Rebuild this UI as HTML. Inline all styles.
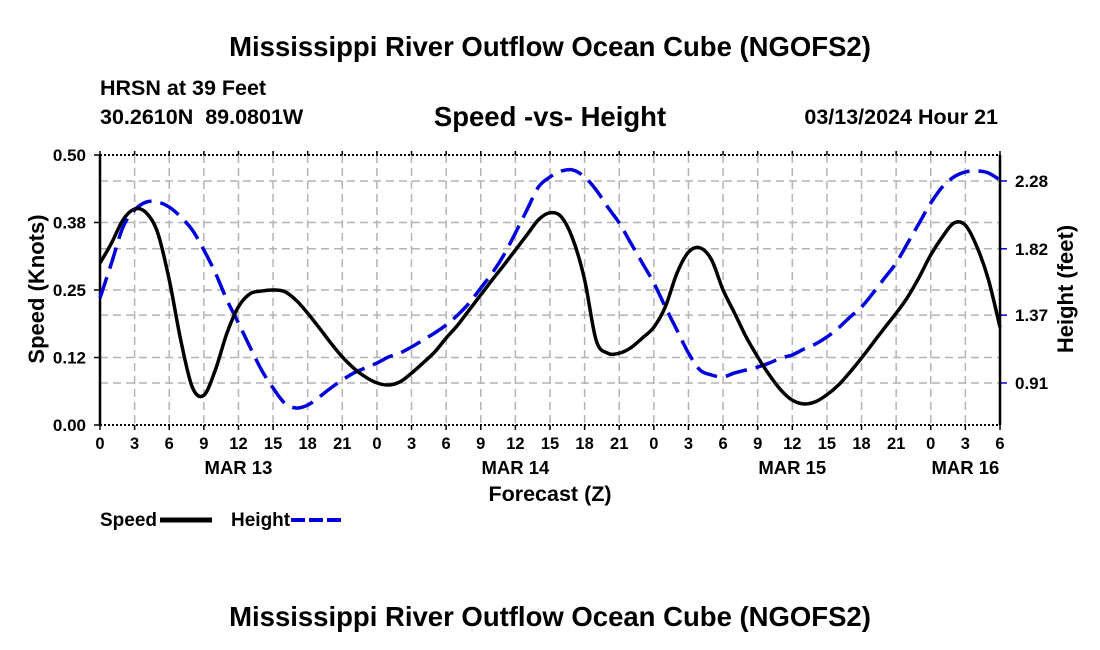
<!DOCTYPE html>
<html><head><meta charset="utf-8">
<style>
html,body{margin:0;padding:0;background:#fff;}
svg{display:block;font-family:"Liberation Sans",Arial,sans-serif;font-weight:bold;}
</style></head>
<body>
<svg id="chart" width="1100" height="650" viewBox="0 0 1100 650" xmlns="http://www.w3.org/2000/svg">
  <rect width="1100" height="650" fill="#fff"/>
  <text x="550" y="56" font-size="27.5" text-anchor="middle">Mississippi River Outflow Ocean Cube (NGOFS2)</text>
  <text x="100" y="95" font-size="21.5">HRSN at 39 Feet</text>
  <text x="100" y="124" font-size="21.5" xml:space="preserve">30.2610N  89.0801W</text>
  <text x="550" y="126" font-size="27.5" text-anchor="middle">Speed -vs- Height</text>
  <text x="998" y="124" font-size="21.5" text-anchor="end">03/13/2024 Hour 21</text>
  <g id="grid"></g>
  <g id="axes"></g>
  <g id="series"></g>
  <text x="550" y="501" font-size="21.5" text-anchor="middle">Forecast (Z)</text>
  <text transform="translate(44,289) rotate(-90)" font-size="22" text-anchor="middle">Speed (Knots)</text>
  <text transform="translate(1073,289) rotate(-90)" font-size="22" text-anchor="middle">Height (feet)</text>
  <g>
    <text x="100" y="526" font-size="19">Speed</text>
    <line x1="160" y1="520" x2="212" y2="520" stroke="#000" stroke-width="5"/>
    <text x="231" y="526" font-size="19">Height</text>
    <line x1="291" y1="520" x2="342" y2="520" stroke="#0000dd" stroke-width="4" stroke-dasharray="14,4"/>
  </g>
  <text x="550" y="626" font-size="27.5" text-anchor="middle">Mississippi River Outflow Ocean Cube (NGOFS2)</text>
</svg>
<script>
const hours = [];
for (let i = 0; i <= 78; i++) hours.push(i);
const speed = [0.30,0.337,0.38,0.40,0.393,0.356,0.269,0.157,0.07,0.055,0.102,0.17,0.219,0.243,0.248,0.25,0.247,0.231,0.207,0.18,0.152,0.126,0.105,0.089,0.078,0.074,0.08,0.096,0.115,0.135,0.161,0.185,0.213,0.241,0.269,0.296,0.324,0.352,0.38,0.393,0.385,0.343,0.269,0.157,0.133,0.133,0.143,0.161,0.181,0.219,0.281,0.32,0.328,0.306,0.25,0.207,0.163,0.126,0.093,0.065,0.046,0.039,0.043,0.056,0.074,0.098,0.124,0.152,0.18,0.207,0.237,0.274,0.315,0.348,0.374,0.37,0.33,0.269,0.181];
const height = [1.486,1.724,1.968,2.083,2.137,2.137,2.103,2.036,1.947,1.812,1.656,1.473,1.317,1.154,0.998,0.876,0.774,0.74,0.76,0.815,0.876,0.93,0.978,1.012,1.045,1.086,1.113,1.154,1.201,1.249,1.303,1.371,1.452,1.554,1.656,1.778,1.927,2.083,2.239,2.307,2.348,2.354,2.307,2.219,2.103,1.995,1.859,1.724,1.588,1.425,1.269,1.113,0.998,0.964,0.951,0.978,0.998,1.018,1.045,1.079,1.1,1.14,1.174,1.222,1.283,1.357,1.425,1.52,1.622,1.724,1.859,1.995,2.13,2.239,2.307,2.341,2.348,2.334,2.286];
const leftTicks = [0, 0.125, 0.25, 0.375, 0.5];
const leftTickLabels = ["0.00","0.12","0.25","0.38","0.50"];
const rightTicks = [0.91, 1.37, 1.82, 2.28];
const rightTickLabels = ["0.91","1.37","1.82","2.28"];
const xTickLabels = ["0","3","6","9","12","15","18","21","0","3","6","9","12","15","18","21","0","3","6","9","12","15","18","21","0","3","6"];
const dayLabels = ["MAR 13","MAR 14","MAR 15","MAR 16"];
const dayHours = [12, 36, 60, 75];

const NS = "http://www.w3.org/2000/svg";
const X0 = 100, X1 = 1000, Y0 = 425, Y1 = 155;
const H_MAX = 78, R_MIN = 0.625, R_MAX = 2.456;
const xs = h => X0 + (X1 - X0) * h / H_MAX;
const yl = v => Y0 - (Y0 - Y1) * v / 0.5;
const yr = v => Y0 - (Y0 - Y1) * (v - R_MIN) / (R_MAX - R_MIN);

function mk(tag, attrs, parent) {
  const e = document.createElementNS(NS, tag);
  for (const k in attrs) e.setAttribute(k, attrs[k]);
  parent.appendChild(e);
  return e;
}
const grid = document.getElementById('grid');
const axes = document.getElementById('axes');
const series = document.getElementById('series');

xTickLabels.forEach((lab, i) => {
  const x = xs(i * 3);
  if (i > 0 && i < xTickLabels.length - 1) {
    const g = mk('line', {x1:x, y1:Y1, x2:x, y2:Y0, stroke:'#b4b4b4', 'stroke-width':1.5, 'stroke-dasharray':'8,5'}, grid);
    
    
  }
  const t = mk('line', {x1:x, y1:Y0, x2:x, y2:Y0+5, stroke:'#000', 'stroke-width':1.5}, axes);
  
  
  const t2 = mk('line', {x1:x, y1:Y1, x2:x, y2:Y1-4, stroke:'#000', 'stroke-width':1.5}, axes);
  
  
  const tx = mk('text', {x:x, y:449, 'font-size':16.5, 'text-anchor':'middle'}, axes);
  tx.textContent = lab;
  
  
});
dayLabels.forEach((lab, i) => {
  const tx = mk('text', {x:xs(dayHours[i]), y:474, 'font-size':18.5, 'text-anchor':'middle'}, axes);
  tx.textContent = lab;
  
  
});
leftTicks.forEach((v, i) => {
  const y = yl(v);
  if (i > 0 && i < leftTicks.length - 1) {
    const g = mk('line', {x1:X0, y1:y, x2:X1, y2:y, stroke:'#b4b4b4', 'stroke-width':1.5, 'stroke-dasharray':'8,5'}, grid);
    
    
  }
  const t = mk('line', {x1:X0-6, y1:y, x2:X0, y2:y, stroke:'#000', 'stroke-width':1.5}, axes);
  
  
  const tx = mk('text', {x:86, y:y+6, 'font-size':17, 'text-anchor':'end'}, axes);
  tx.textContent = leftTickLabels[i];
  
  
});
rightTicks.forEach((v, i) => {
  const y = yr(v);
  const g = mk('line', {x1:X0, y1:y, x2:X1, y2:y, stroke:'#b4b4b4', 'stroke-width':1.5, 'stroke-dasharray':'8,5'}, grid);
  
  
  const t = mk('line', {x1:X1, y1:y, x2:X1+7, y2:y, stroke:'#0000dd', 'stroke-width':1.5}, axes);
  
  
  const tx = mk('text', {x:1015, y:y+6, 'font-size':17}, axes);
  tx.textContent = rightTickLabels[i];
  
  
});
[[X0,Y1,X1,Y1,'2,2'],[X0,Y0,X1,Y0,'2,2']].forEach(a => {
  const l = mk('line', {x1:a[0], y1:a[1], x2:a[2], y2:a[3], stroke:'#000', 'stroke-width':2, 'stroke-dasharray':a[4]}, axes);
  
  
});
const la = mk('line', {x1:X0, y1:Y1, x2:X0, y2:Y0, stroke:'#000', 'stroke-width':2.5}, axes);


const ra = mk('line', {x1:X1, y1:Y1, x2:X1, y2:Y0, stroke:'#000', 'stroke-width':2.5}, axes);



function smooth(pts) {
  let d = 'M' + pts[0][0] + ',' + pts[0][1];
  for (let i = 0; i < pts.length - 1; i++) {
    const p0 = pts[Math.max(0, i-1)], p1 = pts[i], p2 = pts[i+1], p3 = pts[Math.min(pts.length-1, i+2)];
    const c1x = p1[0] + (p2[0]-p0[0])/6, c1y = p1[1] + (p2[1]-p0[1])/6;
    const c2x = p2[0] - (p3[0]-p1[0])/6, c2y = p2[1] - (p3[1]-p1[1])/6;
    d += ' C' + c1x + ',' + c1y + ' ' + c2x + ',' + c2y + ' ' + p2[0] + ',' + p2[1];
  }
  return d;
}
const hp = mk('path', {d:smooth(hours.map((h,i)=>[xs(h), yr(height[i])])), fill:'none', stroke:'#0000dd', 'stroke-width':3.5, 'stroke-dasharray':'22,9'}, series);


const sp = mk('path', {d:smooth(hours.map((h,i)=>[xs(h), yl(speed[i])])), fill:'none', stroke:'#000', 'stroke-width':3.5, 'stroke-linejoin':'round'}, series);


</script>
</body></html>
